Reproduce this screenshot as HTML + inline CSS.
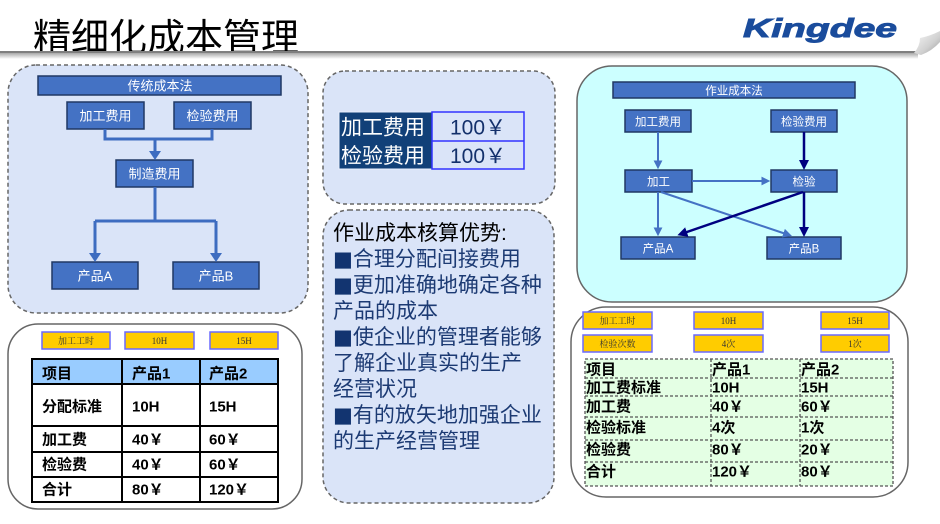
<!DOCTYPE html>
<html><head><meta charset="utf-8"><style>
html,body{margin:0;padding:0;background:#fff;width:940px;height:524px;overflow:hidden}
svg{display:block}
text{font-family:"Liberation Sans","Noto Sans CJK SC",sans-serif}
.w{fill:#fff}
.y{font-family:"Liberation Serif","Noto Serif CJK SC",serif;font-size:9px;fill:#333}
.b{font-weight:bold;font-size:15px;fill:#000}
</style></head><body>
<svg width="940" height="524" viewBox="0 0 940 524" xmlns="http://www.w3.org/2000/svg">
<defs>
<linearGradient id="sh" x1="0" y1="0" x2="0" y2="1"><stop offset="0" stop-color="#a8a8a8"/><stop offset="1" stop-color="#ffffff"/></linearGradient>
<linearGradient id="curl" x1="0" y1="0" x2="1" y2="1"><stop offset="0" stop-color="#f8f8f8"/><stop offset="0.6" stop-color="#d0d0d0"/><stop offset="1" stop-color="#9a9a9a"/></linearGradient>
<marker id="ml" viewBox="0 0 10 10" refX="3" refY="5" markerWidth="9" markerHeight="9" markerUnits="userSpaceOnUse" orient="auto"><path d="M0,0 L10,5 L0,10 z" fill="#4472c4"/></marker>
<marker id="mn" viewBox="0 0 10 10" refX="3" refY="5" markerWidth="10" markerHeight="10" markerUnits="userSpaceOnUse" orient="auto"><path d="M0,0 L10,5 L0,10 z" fill="#000080"/></marker>
</defs>

<!-- header -->
<text x="33" y="51" font-size="38" fill="#000">精细化成本管理</text>
<rect x="0" y="51" width="918" height="2" fill="#7f7f7f"/>
<rect x="0" y="53" width="918" height="6" fill="url(#sh)"/>
<path d="M914,53 Q920,46 920,38 Q930,36 940,31 L940,42 Q932,51 921,55 Z" fill="url(#curl)"/>
<text x="743" y="37" font-size="26" font-weight="bold" font-style="italic" fill="#1a4c9c" stroke="#1a4c9c" stroke-width="0.9" textLength="154" lengthAdjust="spacingAndGlyphs">Kingdee</text>

<!-- left top panel -->
<rect x="8" y="65" width="300" height="248" rx="28" fill="#dae4f8" stroke="#666" stroke-width="1.5" stroke-dasharray="4,3"/>
<g fill="#4472c4" stroke="#203864" stroke-width="1.5">
<rect x="38" y="76" width="243" height="19"/>
<rect x="67" y="102" width="77" height="27"/>
<rect x="174" y="102" width="77" height="27"/>
<rect x="116" y="160" width="77" height="27"/>
<rect x="52" y="262" width="86" height="27"/>
<rect x="173" y="262" width="86" height="27"/>
</g>
<g fill="none" stroke="#3d6cc0" stroke-width="3">
<path d="M105,129 V139 H212 V129"/>
<path d="M155,139 V152"/>
<path d="M155,187 V221"/>
<path d="M95,221 H216"/>
<path d="M95,221 V254"/>
<path d="M216,221 V254"/>
</g>
<g fill="#3d6cc0">
<polygon points="149,151 161,151 155,160"/>
<polygon points="89,253 101,253 95,262"/>
<polygon points="210,253 222,253 216,262"/>
</g>
<g class="w" font-size="13" text-anchor="middle">
<text x="160" y="90.5" class="w">传统成本法</text>
<text x="105.5" y="120.5" class="w">加工费用</text>
<text x="212.5" y="120.5" class="w">检验费用</text>
<text x="154.5" y="178.5" class="w">制造费用</text>
<text x="95" y="280.5" class="w">产品A</text>
<text x="216" y="280.5" class="w">产品B</text>
</g>

<!-- left bottom panel -->
<rect x="8" y="324" width="294" height="185" rx="30" fill="#fff" stroke="#666" stroke-width="1.5"/>
<g fill="#ffcc00" stroke="#6a6aff" stroke-width="1.5">
<rect x="42" y="332" width="68" height="17"/>
<rect x="125" y="332" width="69" height="17"/>
<rect x="210" y="332" width="68" height="17"/>
</g>
<g text-anchor="middle">
<text class="y" x="76" y="344">加工工时</text>
<text class="y" x="159.5" y="344">10H</text>
<text class="y" x="244" y="344">15H</text>
</g>
<rect x="32" y="359" width="246" height="25" fill="#99ccff"/>
<g stroke="#000" stroke-width="2" fill="none">
<rect x="32" y="359" width="246" height="143"/>
<path d="M122,359 V502 M200,359 V502 M32,384 H278 M32,426 H278 M32,452 H278 M32,477 H278"/>
</g>
<g class="b">
<text class="b" x="42" y="378.5">项目</text><text class="b" x="132" y="378.5">产品1</text><text class="b" x="209" y="378.5">产品2</text>
<text class="b" x="42" y="411.5">分配标准</text><text class="b" x="132" y="411.5">10H</text><text class="b" x="209" y="411.5">15H</text>
<text class="b" x="42" y="444.5">加工费</text><text class="b" x="132" y="444.5">40￥</text><text class="b" x="209" y="444.5">60￥</text>
<text class="b" x="42" y="469.5">检验费</text><text class="b" x="132" y="469.5">40￥</text><text class="b" x="209" y="469.5">60￥</text>
<text class="b" x="42" y="494.5">合计</text><text class="b" x="132" y="494.5">80￥</text><text class="b" x="209" y="494.5">120￥</text>
</g>

<!-- middle top panel -->
<rect x="323" y="71" width="232" height="133" rx="22" fill="#dae4f8" stroke="#666" stroke-width="1.5" stroke-dasharray="4,3"/>
<rect x="339" y="112" width="93" height="57" fill="#114078" stroke="#e8eefc" stroke-width="1"/>
<g fill="none" stroke="#3333ff" stroke-width="1.5">
<rect x="432" y="112" width="92" height="57"/>
<path d="M432,141 H524"/>
</g>
<text x="341" y="134.5" font-size="21" fill="#fff">加工费用</text>
<text x="341" y="163" font-size="21" fill="#fff">检验费用</text>
<text x="478" y="134.5" font-size="21" fill="#13306b" text-anchor="middle">100￥</text>
<text x="478" y="163" font-size="21" fill="#13306b" text-anchor="middle">100￥</text>

<!-- middle bottom panel -->
<rect x="323" y="210" width="231" height="293" rx="26" fill="#dae4f8" stroke="#666" stroke-width="1.5" stroke-dasharray="4,3"/>
<g font-size="21" fill="#1c3a73">
<text x="333" y="240" fill="#000" font-size="21">作业成本核算优势:</text>
<text x="333" y="266" font-size="21" fill="#1c3a73"><tspan font-family="DejaVu Sans" fill="#123470">■</tspan>合理分配间接费用</text>
<text x="333" y="292" font-size="21" fill="#1c3a73"><tspan font-family="DejaVu Sans" fill="#123470">■</tspan>更加准确地确定各种</text>
<text x="333" y="318" font-size="21" fill="#1c3a73">产品的成本</text>
<text x="333" y="344" font-size="21" fill="#1c3a73"><tspan font-family="DejaVu Sans" fill="#123470">■</tspan>使企业的管理者能够</text>
<text x="333" y="370" font-size="21" fill="#1c3a73">了解企业真实的生产</text>
<text x="333" y="396" font-size="21" fill="#1c3a73">经营状况</text>
<text x="333" y="422" font-size="21" fill="#1c3a73"><tspan font-family="DejaVu Sans" fill="#123470">■</tspan>有的放矢地加强企业</text>
<text x="333" y="448" font-size="21" fill="#1c3a73">的生产经营管理</text>
</g>

<!-- right top panel -->
<rect x="577" y="66" width="330" height="236" rx="35" fill="#ccffff" stroke="#666" stroke-width="1.5"/>
<g fill="#4472c4" stroke="#203864" stroke-width="1.5">
<rect x="613" y="82" width="242" height="16"/>
<rect x="625" y="110" width="66" height="22"/>
<rect x="771" y="110" width="66" height="22"/>
<rect x="625" y="170" width="67" height="22"/>
<rect x="771" y="170" width="66" height="22"/>
<rect x="621" y="237" width="74" height="22"/>
<rect x="767" y="237" width="74" height="22"/>
</g>
<g fill="none" stroke-width="2">
<line x1="658" y1="132" x2="658" y2="163" stroke="#4472c4" marker-end="url(#ml)"/>
<line x1="692" y1="181" x2="764" y2="181" stroke="#4472c4" marker-end="url(#ml)"/>
<line x1="658" y1="192" x2="658" y2="230" stroke="#4472c4" marker-end="url(#ml)"/>
<line x1="661" y1="192" x2="786" y2="234" stroke="#4472c4" marker-end="url(#ml)"/>
<line x1="804" y1="132" x2="804" y2="163" stroke="#000080" stroke-width="2.5" marker-end="url(#mn)"/>
<line x1="804" y1="192" x2="804" y2="230" stroke="#000080" stroke-width="2.5" marker-end="url(#mn)"/>
<line x1="803" y1="192" x2="684" y2="233" stroke="#000080" stroke-width="2.5" marker-end="url(#mn)"/>
</g>
<g font-size="11.5" text-anchor="middle">
<text x="734" y="94.5" font-size="11.5" class="w">作业成本法</text>
<text x="658" y="125.5" font-size="11.5" class="w">加工费用</text>
<text x="804" y="125.5" font-size="11.5" class="w">检验费用</text>
<text x="658.5" y="185.5" font-size="11.5" class="w">加工</text>
<text x="804" y="185.5" font-size="11.5" class="w">检验</text>
<text x="658" y="252.5" font-size="11.5" class="w">产品A</text>
<text x="804" y="252.5" font-size="11.5" class="w">产品B</text>
</g>

<!-- right bottom panel -->
<rect x="571" y="307" width="337" height="190" rx="35" fill="#fff" stroke="#666" stroke-width="1.5"/>
<g fill="#ffcc00" stroke="#6a6aff" stroke-width="1.5">
<rect x="583" y="312" width="69" height="17"/>
<rect x="694" y="312" width="69" height="17"/>
<rect x="821" y="312" width="68" height="17"/>
<rect x="583" y="335" width="69" height="17"/>
<rect x="694" y="335" width="69" height="17"/>
<rect x="821" y="335" width="68" height="17"/>
</g>
<g text-anchor="middle">
<text class="y" x="617.5" y="324">加工工时</text>
<text class="y" x="728.5" y="324">10H</text>
<text class="y" x="855" y="324">15H</text>
<text class="y" x="617.5" y="347">检验次数</text>
<text class="y" x="728.5" y="347">4次</text>
<text class="y" x="855" y="347">1次</text>
</g>
<rect x="585" y="359" width="308" height="127" fill="#e4ffe4"/>
<g stroke="#555" stroke-width="1.3" fill="none" stroke-dasharray="3,2">
<rect x="585" y="359" width="308" height="127"/>
<path d="M711,359 V486 M800,359 V486 M585,378 H893 M585,396 H893 M585,417 H893 M585,440 H893 M585,462 H893"/>
</g>
<g>
<text class="b" x="586" y="374.5">项目</text><text class="b" x="712" y="374.5">产品1</text><text class="b" x="801" y="374.5">产品2</text>
<text class="b" x="586" y="392.5">加工费标准</text><text class="b" x="712" y="392.5">10H</text><text class="b" x="801" y="392.5">15H</text>
<text class="b" x="586" y="411.5">加工费</text><text class="b" x="712" y="411.5">40￥</text><text class="b" x="801" y="411.5">60￥</text>
<text class="b" x="586" y="432.5">检验标准</text><text class="b" x="712" y="432.5">4次</text><text class="b" x="801" y="432.5">1次</text>
<text class="b" x="586" y="454.5">检验费</text><text class="b" x="712" y="454.5">80￥</text><text class="b" x="801" y="454.5">20￥</text>
<text class="b" x="586" y="476.5">合计</text><text class="b" x="712" y="476.5">120￥</text><text class="b" x="801" y="476.5">80￥</text>
</g>
</svg>
</body></html>
